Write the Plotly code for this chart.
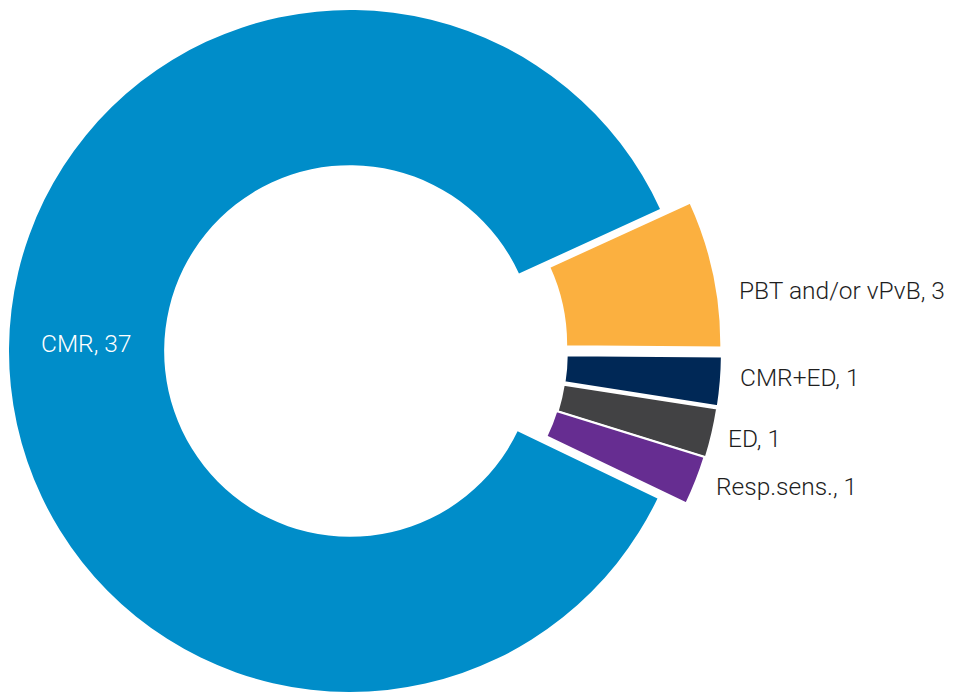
import math
import plotly.graph_objects as go

# Substance groups and their counts
categories = ["CMR", "PBT and/or vPvB", "CMR+ED", "ED", "Resp.sens."]
counts = [37, 3, 1, 1, 1]
colors = ["#008DC9", "#FBB040", "#002856", "#424244", "#662D91"]
exploded = [False, True, True, True, True]

# Canvas and ring geometry (pixels)
W, H = 954, 697
R = 341                 # outer radius
HOLE = 0.545            # inner radius as a fraction of R
CX, CY = 350, 351       # centre of the main ring
PULL = 31               # radial offset of the exploded slices
TILT = 0.5              # small clockwise tilt of the exploded group (deg)
LABEL_GAP = 20
LABEL_NUDGE_Y = [-5, 21, -6, 1, -1]
LABEL_NUDGE_X = [0, 4, -3, -6, -1]
FONT = "Roboto"
FONT_SIZE = 24.5
FONT_WEIGHT = 300

total = sum(counts)
small_total = sum(c for c, e in zip(counts, exploded) if e)
# plotly measures rotation clockwise from 12 o'clock; centre the exploded
# group on 3 o'clock
rotation = 90 + 180 * small_total / total + TILT

# mid angle of every slice (clockwise from 12 o'clock, degrees)
mids = []
acc = 0
for c in counts:
    mids.append(rotation + 360 * (acc + c / 2) / total)
    acc += c


def unit(deg):
    a = math.radians(deg)
    return math.sin(a), -math.cos(a)  # screen coords, y down


def domain_for(cx, cy):
    cy = min(max(cy, R), H - R)
    x0, x1 = (cx - R) / W, (cx + R) / W
    y0, y1 = 1 - (cy + R) / H, 1 - (cy - R) / H
    clamp = lambda v: min(max(v, 0.0), 1.0)
    return dict(x=[clamp(x0), clamp(x1)], y=[clamp(y0), clamp(y1)]), cy


fig = go.Figure()
annotations = []
for i, name in enumerate(categories):
    ux, uy = unit(mids[i])
    off = PULL if exploded[i] else 0
    cx, cy = CX + off * ux, CY + off * uy
    dom, cy = domain_for(cx, cy)

    slice_colors = [colors[j] if j == i else "rgba(0,0,0,0)" for j in range(len(counts))]
    line_w = [2 if (j == i and exploded[i]) else 0 for j in range(len(counts))]

    fig.add_trace(go.Pie(
        values=counts,
        labels=categories,
        sort=False,
        direction="clockwise",
        rotation=rotation,
        hole=HOLE,
        domain=dom,
        marker=dict(colors=slice_colors, line=dict(color="white", width=line_w)),
        textinfo="none",
        hoverinfo="skip",
        showlegend=False,
    ))

    text = f"{name}, {counts[i]}"
    if exploded[i]:
        # label just outside the slice, left-aligned
        lx = cx + (R + LABEL_GAP) * ux + LABEL_NUDGE_X[i]
        ly = cy + (R + LABEL_GAP) * uy + LABEL_NUDGE_Y[i]
        anchor, color = "left", "#1e1e1e"
    else:
        # label centred on the ring band
        rm = R * (1 + HOLE) / 2
        lx = cx + rm * ux + LABEL_NUDGE_X[i]
        ly = cy + rm * uy + LABEL_NUDGE_Y[i]
        anchor, color = "center", "white"
    annotations.append(dict(
        x=lx / W, y=1 - ly / H, xref="paper", yref="paper",
        xanchor=anchor, yanchor="middle", showarrow=False,
        text=text,
        font=dict(family=FONT, size=FONT_SIZE, color=color, weight=FONT_WEIGHT),
    ))

fig.update_layout(
    width=W, height=H,
    margin=dict(l=0, r=0, t=0, b=0),
    paper_bgcolor="white",
    plot_bgcolor="white",
    showlegend=False,
    annotations=annotations,
)

fig.write_html("out.html")
